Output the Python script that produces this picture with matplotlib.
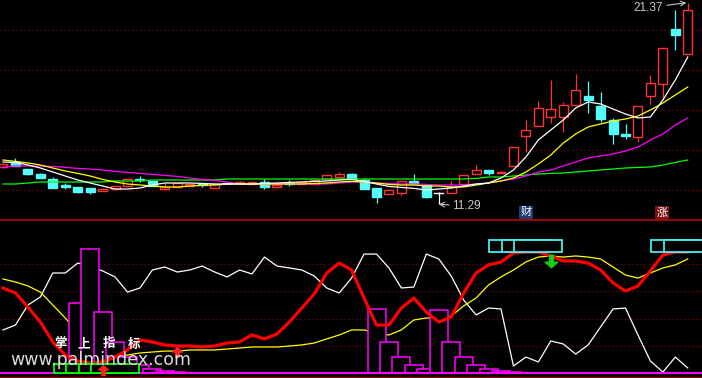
import numpy as np
import matplotlib
matplotlib.use('Agg')
import matplotlib.pyplot as plt
from matplotlib.patches import Rectangle
from matplotlib.lines import Line2D
from matplotlib.path import Path

plt.rcParams['font.family'] = ['Noto Sans CJK SC', 'DejaVu Sans']
plt.rcParams['lines.scale_dashes'] = False

# ---------------- price data (candles) ----------------
opens = [13.15, 13.4, 13.05, 12.8, 12.55, 12.25, 12.15, 12.1, 11.95, 12.05,
         12.2, 12.55, 12.45, 12.05, 12.15, 12.2, 12.3, 12.1, 12.35, 12.35,
         12.3, 12.4, 12.15, 12.35, 12.3, 12.3, 12.55, 12.65, 12.8, 12.5,
         12.1, 11.8, 11.85, 12.45, 12.25, 11.85, 11.85, 12.3, 12.8, 13.0,
         12.85, 13.2, 14.7, 15.2, 15.65, 15.65, 16.25, 16.7, 16.2, 15.5,
         14.8, 14.65, 16.7, 17.3, 20.05, 18.8]
closes = [13.3, 13.2, 12.8, 12.6, 12.1, 12.15, 11.9, 11.9, 12.05, 12.2,
          12.55, 12.5, 12.2, 12.15, 12.35, 12.3, 12.25, 12.3, 12.35, 12.4,
          12.4, 12.15, 12.25, 12.3, 12.4, 12.5, 12.75, 12.8, 12.55, 12.05,
          11.65, 12.0, 12.45, 12.35, 11.65, 11.85, 12.15, 12.75, 13.0, 12.85,
          12.9, 14.15, 15.0, 16.1, 16.05, 16.25, 17.0, 16.5, 15.55, 14.8,
          14.7, 16.2, 17.35, 19.1, 19.75, 21.0]
highs = [13.35, 13.6, 13.05, 12.85, 12.65, 12.35, 12.15, 12.1, 12.1, 12.2,
         12.55, 12.7, 12.45, 12.35, 12.35, 12.3, 12.35, 12.3, 12.4, 12.45,
         12.45, 12.55, 12.3, 12.5, 12.4, 12.5, 12.75, 12.9, 12.85, 12.6,
         12.1, 12.0, 12.45, 12.8, 12.25, 11.9, 12.45, 12.75, 13.25, 13.0,
         12.95, 14.15, 15.5, 16.45, 17.5, 16.4, 17.8, 17.45, 16.9, 15.6,
         15.3, 16.2, 17.75, 19.1, 21.0, 21.37]
lows = [13.1, 13.2, 12.75, 12.6, 12.1, 12.05, 11.85, 11.8, 11.95, 12.05,
        12.2, 12.4, 12.2, 12.05, 12.15, 12.2, 12.15, 12.1, 12.3, 12.3,
        12.3, 12.05, 12.15, 12.2, 12.3, 12.3, 12.55, 12.65, 12.55, 12.05,
        11.35, 11.8, 11.75, 12.35, 11.6, 11.29, 11.85, 12.3, 12.8, 12.75,
        12.85, 13.2, 13.9, 15.2, 15.35, 14.9, 16.25, 15.85, 15.4, 14.3,
        14.55, 14.4, 16.3, 16.5, 19.0, 18.8]

ma5 = [13.4, 13.38, 13.25, 13.1, 12.9, 12.7, 12.5, 12.35, 12.2, 12.05,
       12.05, 12.1, 12.25, 12.35, 12.35, 12.35, 12.33, 12.3, 12.3, 12.3,
       12.3, 12.33, 12.35, 12.38, 12.4, 12.43, 12.45, 12.5, 12.53, 12.43,
       12.3, 12.18, 12.13, 12.08, 12.0, 12.05, 12.1, 12.2, 12.3, 12.35,
       12.6, 13.0, 13.65, 14.5, 15.0, 15.5, 16.1, 16.4, 16.3, 16.05,
       15.8, 15.6, 15.65, 16.5, 17.5, 18.65]
ma10 = [13.5, 13.43, 13.35, 13.25, 13.1, 12.95, 12.83, 12.7, 12.53, 12.4,
        12.3, 12.25, 12.2, 12.15, 12.15, 12.2, 12.23, 12.25, 12.3, 12.3,
        12.3, 12.3, 12.3, 12.3, 12.3, 12.33, 12.35, 12.4, 12.43, 12.4,
        12.35, 12.28, 12.25, 12.25, 12.2, 12.2, 12.15, 12.15, 12.25, 12.35,
        12.45, 12.6, 12.9, 13.3, 13.75, 14.35, 14.8, 15.15, 15.3, 15.45,
        15.55, 15.7, 16.0, 16.35, 16.75, 17.15]
ma20 = [13.15, 13.2, 13.2, 13.2, 13.18, 13.13, 13.08, 13.05, 13.0, 12.93,
        12.88, 12.83, 12.78, 12.73, 12.68, 12.6, 12.53, 12.48, 12.4, 12.3,
        12.3, 12.3, 12.3, 12.3, 12.3, 12.3, 12.3, 12.35, 12.4, 12.4,
        12.35, 12.33, 12.3, 12.3, 12.28, 12.25, 12.25, 12.25, 12.3, 12.35,
        12.45, 12.55, 12.7, 12.9, 13.0, 13.2, 13.4, 13.6, 13.7, 13.8,
        13.95, 14.15, 14.5, 14.8, 15.25, 15.6]
ma60 = [12.3, 12.3, 12.35, 12.4, 12.4, 12.4, 12.4, 12.4, 12.4, 12.45,
        12.45, 12.45, 12.5, 12.5, 12.5, 12.5, 12.5, 12.5, 12.55, 12.55,
        12.55, 12.55, 12.55, 12.55, 12.55, 12.55, 12.55, 12.55, 12.55, 12.55,
        12.55, 12.55, 12.55, 12.55, 12.55, 12.55, 12.55, 12.55, 12.58, 12.65,
        12.65, 12.7, 12.75, 12.8, 12.83, 12.85, 12.9, 12.95, 13.0, 13.05,
        13.1, 13.13, 13.15, 13.25, 13.38, 13.5]

price_grid = [12, 14, 16, 18, 20]
high_value = 21.37
low_value = 11.29

# ---------------- indicator panel ----------------
osc_white = [31.6, 35.2, 49.9, 55.8, 73.4, 73.4, 80.7, 78.5, 74.9, 70.5,
             59.4, 62.4, 75.6, 77.8, 74.1, 75.6, 78.5, 74.1, 70.5, 75.6,
             72.7, 85.1, 78.5, 77.1, 75.6, 71.2, 62.4, 58.7, 69.7, 87.3,
             87.3, 77.1, 62.4, 63.1, 87.3, 83.7, 71.2, 53.6, 42.6, 47.7,
             47.0, 5.1, 11.7, 8.1, 23.5, 21.3, 13.9, 20.6, 33.8, 47.0,
             47.7, 27.9, 8.8, 0.7, 11.7, 3.7]
osc_red = [62.4, 58.7, 48.4, 37.4, 22.8, 13.2, 8.8, 7.3, 8.1, 11.7,
           16.9, 24.2, 22.8, 20.6, 19.8, 19.8, 19.1, 19.8, 22.0, 22.8,
           27.9, 25.0, 28.6, 37.4, 47.7, 58.0, 73.4, 80.7, 75.6, 55.0,
           35.2, 35.2, 47.7, 55.0, 44.8, 37.4, 41.1, 58.7, 73.4, 79.3,
           81.5, 88.1, 88.8, 88.8, 85.9, 82.2, 82.2, 80.7, 75.6, 66.1,
           60.2, 63.9, 74.9, 86.6, 88.8, 88.8]
osc_yellow = [69.0, 66.8, 63.9, 59.4, 49.9, 40.4, 30.1, 22.8, 16.9, 12.5,
              13.2, 14.7, 15.4, 16.1, 16.1, 16.9, 16.9, 16.9, 17.6, 18.3,
              19.1, 19.1, 19.1, 19.8, 20.6, 22.0, 25.0, 27.9, 31.6, 31.6,
              29.4, 27.9, 31.6, 38.9, 40.4, 40.4, 41.8, 49.2, 55.0, 64.6,
              70.5, 75.6, 81.5, 85.1, 85.9, 85.1, 85.9, 85.1, 83.7, 77.8,
              71.9, 69.7, 73.4, 77.1, 79.3, 83.7]
bar_idx = [6, 7, 8, 9, 10, 11, 12, 13, 14,
           30, 31, 32, 33, 34, 35, 36, 37, 38, 39, 40, 41]
bar_val = [51.4, 91.0, 44.8, 22.8, 11.4, 5.7, 2.9, 1.4, 0.7,
           47.0, 22.8, 11.7, 5.9, 2.9, 46.2, 22.8, 11.7, 5.9, 2.9, 1.5, 0.7]
green_box_idx = [6, 7, 8, 9]
green_box_top = 6.6
cyan_box_idx = [41, 42, 43, 54, 55]
cyan_box_range = (88.8, 97.6)
up_arrow_idx = [8, 14]
up_arrow_val = [2.2, 15.4]
down_arrow_idx = [44]
down_arrow_val = [82.2]
osc_grid = [20, 40, 60, 80]

# ---------------- figure ----------------
W, H = 702, 378
fig = plt.figure(figsize=(W / 100, H / 100), dpi=100, facecolor='black')
n = len(closes)
x = np.arange(n)
xlim = (-3 / 12.45, (W - 3) / 12.45)

ax1 = fig.add_axes([0, (H - 219) / H, 1, 219 / H])
ax2 = fig.add_axes([0, 0, 1, (H - 220) / H])
for ax in (ax1, ax2):
    ax.set_facecolor('black')
    ax.set_xlim(*xlim)
    ax.set_axis_off()
ax1.set_ylim(21.5 - 219 * 0.05, 21.5)
ax2.set_ylim(-5 / 1.3625, (373 - 220) / 1.3625)

dot = (0, (0.72, 2.16))
grid_c = '#a00000'
for g in price_grid:
    ax1.axhline(g, color=grid_c, lw=0.9, ls=dot, zorder=0)
for g in osc_grid:
    ax2.axhline(g, color=grid_c, lw=0.9, ls=dot, zorder=0)

RED = '#ff3232'
CYAN = '#54fcfc'
bw = 0.72
for i in range(n):
    o, c, h, l = opens[i], closes[i], highs[i], lows[i]
    if c > o:
        col = RED
    elif c < o:
        col = CYAN
    else:
        col = 'white'
    top, bot = max(o, c), min(o, c)
    ax1.plot([i, i], [top, h], color=col, lw=0.9, zorder=2, solid_capstyle='butt')
    ax1.plot([i, i], [l, bot], color=col, lw=0.9, zorder=2, solid_capstyle='butt')
    if c > o:
        ax1.add_patch(Rectangle((i - bw / 2, bot), bw, top - bot, fc='black', ec=col, lw=1.0, zorder=3))
    elif c < o:
        ax1.add_patch(Rectangle((i - bw / 2, bot), bw, top - bot, fc=col, ec=col, lw=1.0, zorder=3))
    else:
        ax1.plot([i - bw / 2, i + bw / 2], [o, o], color=col, lw=1.0, zorder=3)

ax1.plot(x, ma60, color='#00ff00', lw=0.9, zorder=4)
ax1.plot(x, ma20, color='#ff00ff', lw=0.9, zorder=4)
ax1.plot(x, ma10, color='#ffff00', lw=0.9, zorder=4)
ax1.plot(x, ma5, color='white', lw=0.9, zorder=4)

lab_c = '#c8c8c8'
ax1.annotate(f'{high_value:.2f}', xy=(n - 1, high_value), xytext=(-25, -5),
             textcoords='offset pixels', ha='right', va='center', color=lab_c,
             fontsize=8.5, family=['Liberation Sans', 'DejaVu Sans'],
             arrowprops=dict(arrowstyle='->', color=lab_c, lw=0.8, shrinkA=1, shrinkB=1))
low_i = int(np.argmin(lows))
ax1.annotate(f'{low_value:.2f}', xy=(low_i, low_value), xytext=(13, -2),
             textcoords='offset pixels', ha='left', va='center', color=lab_c,
             fontsize=8.5, family=['Liberation Sans', 'DejaVu Sans'],
             arrowprops=dict(arrowstyle='->', color=lab_c, lw=0.8, shrinkA=0, shrinkB=0))

ax1.text(42, 10.88, '财', color='white', fontsize=8, ha='center', va='center',
         bbox=dict(boxstyle='square,pad=0.12', fc='#1e3d6e', ec='none'), zorder=6)
ax1.text(52.95, 10.88, '涨', color='white', fontsize=8, ha='center', va='center',
         bbox=dict(boxstyle='square,pad=0.12', fc='#7a1212', ec='none'), zorder=6)

fig.add_artist(Line2D([0, 1], [(H - 219.5) / H] * 2, transform=fig.transFigure,
                      color='#d00000', lw=1.1))

# indicator panel
ax2.plot(x, osc_white, color='white', lw=0.9, zorder=2)
ax2.plot(x, osc_yellow, color='#ffff00', lw=0.9, zorder=2)
barw = 18 / 12.45
for k, (i, v) in enumerate(zip(bar_idx, bar_val)):
    ax2.add_patch(Rectangle((i - barw / 2, 0), barw, v, fc='black', ec='#ff00ff',
                            lw=1.1, zorder=3 + k * 0.001))
ax2.axhline(0, color='#ff00ff', lw=1.5, zorder=3.5)
ax2.axhline(-2.6, color='#a00000', lw=0.9, zorder=3.5)
ax2.plot(x, osc_red, color='#ff0000', lw=2.3, zorder=4, solid_joinstyle='round')

boxw = 48 / 12.45
for k, i in enumerate(green_box_idx):
    ax2.add_patch(Rectangle((i - boxw / 2, 0), boxw, green_box_top, fc='black',
                            ec='#00ff00', lw=1.3, zorder=5 + k * 0.001))
for k, i in enumerate(cyan_box_idx):
    ax2.add_patch(Rectangle((i - boxw / 2, cyan_box_range[0]), boxw,
                            cyan_box_range[1] - cyan_box_range[0], fc='black',
                            ec='#44eeee', lw=1.3, zorder=5 + k * 0.001))

up_path = Path([(0, 1), (-1, 0.1), (-0.35, 0.1), (-0.35, -1), (0.35, -1),
                (0.35, 0.1), (1, 0.1), (0, 1)], closed=True)
down_path = Path([(0, -1), (-1, -0.1), (-0.3, -0.1), (-0.3, 1), (0.3, 1),
                  (0.3, -0.1), (1, -0.1), (0, -1)], closed=True)
ax2.plot(up_arrow_idx, up_arrow_val, ls='none', marker=up_path, ms=7,
         color='#ff2020', mec='#ff2020', zorder=7)
ax2.plot(down_arrow_idx, down_arrow_val, ls='none', marker=down_path, ms=9,
         color='#10d010', mec='#10d010', zorder=7)

# watermark
for ch, px in zip('掌上指标', [61, 84, 109, 134]):
    fig.text(px / W, 1 - 344 / H, ch, color='white', fontsize=9, weight='bold',
             ha='center', va='center', zorder=10)
fig.text(10 / W, 1 - 360 / H, 'www.palmindex.com', color='#dcdcdc', fontsize=12.5,
         family=['DejaVu Sans'], ha='left', va='center', zorder=10)

fig.savefig('out.png', dpi=100, facecolor='black')
